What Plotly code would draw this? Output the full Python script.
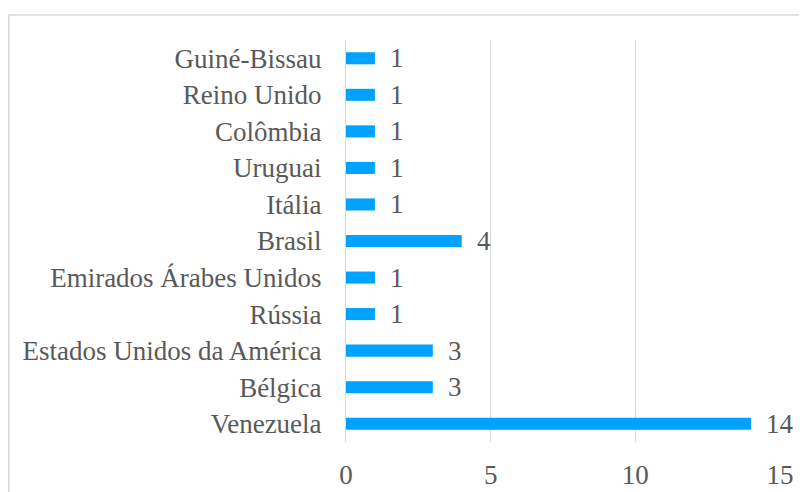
import plotly.graph_objects as go

countries = ["Venezuela", "Bélgica", "Estados Unidos da América", "Rússia",
             "Emirados Árabes Unidos", "Brasil", "Itália", "Uruguai",
             "Colômbia", "Reino Unido", "Guiné-Bissau"]
counts = [14, 3, 3, 1, 1, 4, 1, 1, 1, 1, 1]
x_ticks = [0, 5, 10, 15]

FONT = "Liberation Serif"
GRAY = "#595959"
BAR = "#00A2FF"

OFF = 8  # page body margin
W, H = 807 - OFF, 492 - OFF
L, R, T, B = 346 - OFF, 27, 40 - OFF, 50

fig = go.Figure()
fig.add_trace(go.Bar(
    y=countries, x=counts, orientation="h",
    marker=dict(color=BAR, line=dict(width=0)),
    width=0.33, hoverinfo="skip",
))

for c, v in zip(countries, counts):
    fig.add_annotation(x=v, y=c, text=str(v), showarrow=False,
                       xanchor="left", yanchor="middle", xshift=13,
                       font=dict(family=FONT, size=27, color=GRAY))

pw = W - L - R
ph = H - T - B
fig.add_shape(type="rect", xref="paper", yref="paper",
              x0=(0.8 - L) / pw, x1=(W + 20 - L) / pw,
              y0=-(H + 20 - (H - B)) / ph, y1=((H - B) - 7) / ph,
              line=dict(color="#D9D9D9", width=1.5), layer="below")

fig.update_layout(
    width=W, height=H,
    margin=dict(l=L, r=R, t=T, b=B, pad=0, autoexpand=False),
    paper_bgcolor="white", plot_bgcolor="white",
    showlegend=False,
    font=dict(family=FONT, size=27, color=GRAY),
    xaxis=dict(range=[0, 15], tickvals=x_ticks, ticktext=[str(t) for t in x_ticks],
               showgrid=True, gridcolor="#D9D9D9", gridwidth=1,
               zeroline=False, showline=False, ticks="",
               tickfont=dict(family=FONT, size=27, color=GRAY),
               ticklabelstandoff=14, automargin=False, fixedrange=True),
    yaxis=dict(categoryorder="array", categoryarray=countries,
               showgrid=False, zeroline=False,
               showline=True, linecolor="#D9D9D9", linewidth=1,
               ticks="", ticklabelstandoff=18, automargin=False,
               tickfont=dict(family=FONT, size=27, color=GRAY),
               range=[-0.5, len(countries) - 0.5], fixedrange=True),
)

fig.write_html("out.html")
